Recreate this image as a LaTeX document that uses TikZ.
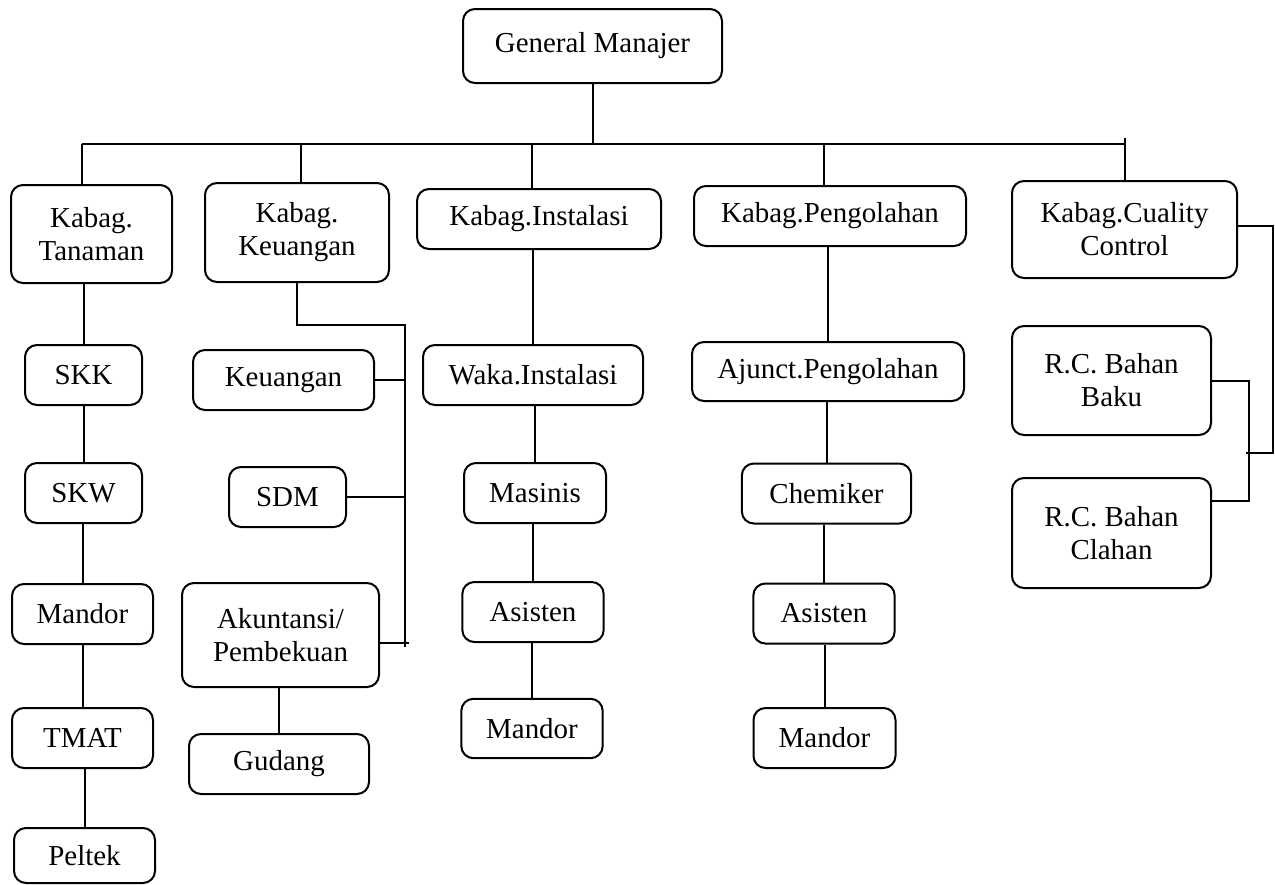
\documentclass[tikz,border=0pt]{standalone}
\usepackage{fontspec}
\setmainfont{Liberation Serif}
\usetikzlibrary{positioning,calc}

\begin{document}
\begin{tikzpicture}[x=0.75pt,y=-0.75pt,
  box/.style={draw,line width=1.5pt,rounded corners=9pt,align=center,inner sep=2pt,font=\fontsize{21.7}{24.75}\selectfont},
  link/.style={line width=1.5pt}]
\useasboundingbox (0,0) rectangle (1275,885);
% top
\node[box,minimum width=194.25pt,minimum height=55.5pt] (gm) at (592.5,46) {General Manajer};
% kepala bagian
\node[box,minimum width=120.75pt,minimum height=73.5pt] (tan) at (91.5,234) {Kabag.\\Tanaman};
\node[box,minimum width=138pt,minimum height=74.25pt] (keu) at (297,232.5) {Kabag.\\Keuangan};
\node[box,minimum width=183pt,minimum height=45pt] (ins) at (539,219) {Kabag.Instalasi};
\node[box,minimum width=204pt,minimum height=45pt] (pgl) at (830,216) {Kabag.Pengolahan};
\node[box,minimum width=168.75pt,minimum height=72.75pt] (qc) at (1124.5,229.5) {Kabag.Cuality\\Control};
% tanaman
\node[box,minimum width=87.75pt,minimum height=45pt] (skk) at (83.5,375) {SKK};
\node[box,minimum width=87.75pt,minimum height=45pt] (skw) at (83.5,493) {SKW};
\node[box,minimum width=105.75pt,minimum height=45pt] (mdrA) at (82.5,614) {Mandor};
\node[box,minimum width=105.75pt,minimum height=45pt] (tmat) at (82.5,738) {TMAT};
\node[box,minimum width=105.75pt,minimum height=41.25pt] (peltek) at (84.5,855.5) {Peltek};
% keuangan
\node[box,minimum width=135.75pt,minimum height=45pt] (keuB) at (283.5,380) {Keuangan};
\node[box,minimum width=87.75pt,minimum height=45pt] (sdm) at (287.5,497) {SDM};
\node[box,minimum width=147.75pt,minimum height=78pt] (akt) at (280.5,635) {Akuntansi/\\Pembekuan};
\node[box,minimum width=135pt,minimum height=45pt] (gud) at (279,764) {Gudang};
% instalasi
\node[box,minimum width=165pt,minimum height=45pt] (waka) at (533,375) {Waka.Instalasi};
\node[box,minimum width=106.5pt,minimum height=45pt] (mas) at (535,493) {Masinis};
\node[box,minimum width=106pt,minimum height=45pt] (asiA) at (533,612) {Asisten};
\node[box,minimum width=106pt,minimum height=44.5pt] (mdrB) at (532,728.5) {Mandor};
% pengolahan
\node[box,minimum width=204pt,minimum height=44.25pt] (ajt) at (828,371.5) {Ajunct.Pengolahan};
\node[box,minimum width=127pt,minimum height=45pt] (chem) at (826.5,493.5) {Chemiker};
\node[box,minimum width=106pt,minimum height=45pt] (asiB) at (824,613.5) {Asisten};
\node[box,minimum width=106.5pt,minimum height=45pt] (mdrC) at (824.5,738) {Mandor};
% quality control
\node[box,minimum width=149.25pt,minimum height=81.75pt] (baku) at (1111.5,380.5) {R.C. Bahan\\Baku};
\node[box,minimum width=149.25pt,minimum height=82.5pt] (clh) at (1111.5,533) {R.C. Bahan\\Clahan};
% bus
\coordinate (busL) at (82,144);
\coordinate (busR) at (1125,144);
\coordinate (dkeu) at (301,144);
\coordinate (dins) at (532,144);
\coordinate (dpgl) at (824,144);
\coordinate (dqc) at (1125,138);
\draw[link] (gm.south) -- (gm.south |- busL);
\draw[link] (busL) -- (busR);
\draw[link] (busL) -- (busL |- tan.north);
\draw[link] (dkeu) -- (dkeu |- keu.north);
\draw[link] (dins) -- (dins |- ins.north);
\draw[link] (dpgl) -- (dpgl |- pgl.north);
\draw[link] (dqc) -- (dqc |- qc.north);
% columns
\foreach \a/\b in {tan/skk,skk/skw,skw/mdrA,mdrA/tmat,tmat/peltek,akt/gud,ins/waka,waka/mas,mas/asiA,asiA/mdrB,pgl/ajt,ajt/chem,chem/asiB,asiB/mdrC}
  \draw[link] (\b.north) -- (\b.north |- \a.south);
% keuangan bracket
\coordinate (kbus) at (405,325);
\coordinate (kend) at (405,647);
\coordinate (aktR) at ([yshift=-6pt]akt.east);
\coordinate (aktE) at ([xshift=3pt]kbus |- aktR);
\draw[link] (keu.south) -- (keu.south |- kbus) -- (kbus) -- (kend);
\draw[link] (keuB.east) -- (keuB.east -| kbus);
\draw[link] (sdm.east) -- (sdm.east -| kbus);
\draw[link] (aktR) -- (aktE);
% quality control bracket
\coordinate (qcR) at ([yshift=2.5pt]qc.east);
\coordinate (qcr) at (1273,453);
\coordinate (rcb) at (1249,453);
\coordinate (rcbL) at (1246,453);
\coordinate (clhR) at ([yshift=24pt]clh.east);
\draw[link] (qcR) -- (qcR -| qcr) -- (qcr) -- (rcbL);
\draw[link] (baku.east) -- (baku.east -| rcb) -- (rcb |- clhR) -- (clhR);
\end{tikzpicture}
\end{document}
